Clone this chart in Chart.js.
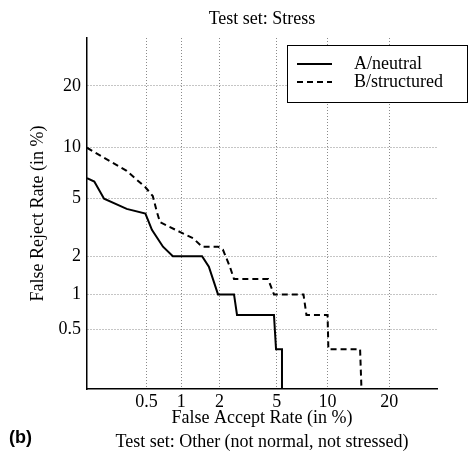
<!DOCTYPE html>
<html>
<head>
<meta charset="utf-8">
<script src="https://cdn.jsdelivr.net/npm/chart.js@4/dist/chart.umd.min.js"></script>
<style>
    body { margin: 0; background: #fff; }
    #wrap { width: 468px; height: 454px; }
</style>
</head>
<body>
<div id="wrap"><canvas id="detChart" width="468" height="454"></canvas></div>
<script>
// values in percent
const tickValues = [0.5, 1, 2, 5, 10, 20];
const tickLabels = ["0.5", "1", "2", "5", "10", "20"];

const neutralFar = [0.135, 0.16, 0.20, 0.33, 0.49, 0.56, 0.70, 0.85, 1.47, 1.66, 1.95, 2.56, 2.69, 4.8, 4.95, 5.4, 5.4];
const neutralFrr = [6.7, 6.4, 5.0, 4.3, 4.0, 3.1, 2.35, 2.0, 2.0, 1.66, 1.0, 1.0, 0.67, 0.67, 0.33, 0.33, 0.1];

const structuredFar = [0.135, 0.23, 0.33, 0.49, 0.57, 0.62, 0.66, 0.97, 1.25, 1.47, 1.95, 2.12, 2.39, 2.56, 4.4, 4.8, 7.3, 7.6, 10.0, 10.1, 14.7, 15.0];
const structuredFrr = [10.0, 8.4, 7.4, 5.9, 5.2, 4.1, 3.5, 3.0, 2.7, 2.35, 2.35, 2.24, 1.66, 1.33, 1.33, 1.0, 1.0, 0.67, 0.67, 0.33, 0.33, 0.1];

const seriesLabels = ["A/neutral", "B/structured"];

// inverse normal cdf (Acklam), DET axes are on a normal deviate scale
function probit(p) {
    const a = [-39.69683028665376, 220.9460984245205, -275.9285104469687, 138.3577518672690, -30.66479806614716, 2.506628277459239];
    const b = [-54.47609879822406, 161.5858368580409, -155.6989798598866, 66.80131188771972, -13.28068155288572];
    const c = [-0.007784894002430293, -0.3223964580411365, -2.400758277161838, -2.549732539343734, 4.374664141464968, 2.938163982698783];
    const d = [0.007784695709041462, 0.3224671290700398, 2.445134137142996, 3.754408661907416];
    const pLow = 0.02425;
    let q, r;
    if (p < pLow) {
        q = Math.sqrt(-2 * Math.log(p));
        return (((((c[0] * q + c[1]) * q + c[2]) * q + c[3]) * q + c[4]) * q + c[5]) /
            ((((d[0] * q + d[1]) * q + d[2]) * q + d[3]) * q + 1);
    } else if (p <= 1 - pLow) {
        q = p - 0.5;
        r = q * q;
        return (((((a[0] * r + a[1]) * r + a[2]) * r + a[3]) * r + a[4]) * r + a[5]) * q /
            (((((b[0] * r + b[1]) * r + b[2]) * r + b[3]) * r + b[4]) * r + 1);
    }
    q = Math.sqrt(-2 * Math.log(1 - p));
    return -(((((c[0] * q + c[1]) * q + c[2]) * q + c[3]) * q + c[4]) * q + c[5]) /
        ((((d[0] * q + d[1]) * q + d[2]) * q + d[3]) * q + 1);
}

function toPoints(far, frr) {
    return far.map((x, i) => ({ x: probit(x / 100), y: probit(frr[i] / 100) }));
}

const serif = "'Liberation Serif', 'Times New Roman', serif";

const insideLegend = {
    id: "insideLegend",
    afterDatasetsDraw(chart) {
        const ctx = chart.ctx;
        const area = chart.chartArea;
        const left = area.left + 200, top = area.top + 7;
        const w = 180, h = 57;
        ctx.save();
        ctx.fillStyle = "#fff";
        ctx.fillRect(left, top, w, h);
        ctx.strokeStyle = "#000";
        ctx.lineWidth = 1;
        ctx.strokeRect(left + 0.5, top + 0.5, w, h);
        ctx.font = "18px " + serif;
        ctx.textBaseline = "middle";
        chart.data.datasets.forEach((ds, i) => {
            const y = top + 19 + i * 18;
            ctx.beginPath();
            ctx.setLineDash(ds.borderDash || []);
            ctx.lineWidth = ds.borderWidth;
            ctx.moveTo(left + 10, y);
            ctx.lineTo(left + 45, y);
            ctx.stroke();
            ctx.setLineDash([]);
            ctx.fillStyle = "#000";
            ctx.fillText(ds.label, left + 67, y);
        });
        ctx.restore();
    }
};

const bottomCaption = {
    id: "bottomCaption",
    afterDraw(chart) {
        const ctx = chart.ctx;
        const area = chart.chartArea;
        ctx.save();
        ctx.fillStyle = "#000";
        ctx.textBaseline = "middle";
        ctx.font = "bold 18px 'Liberation Sans', Arial, sans-serif";
        ctx.textAlign = "left";
        ctx.fillText("(b)", 9, 438);
        ctx.font = "18px " + serif;
        ctx.textAlign = "center";
        ctx.fillText("Test set: Other (not normal, not stressed)", (area.left + area.right) / 2, 442);
        ctx.restore();
    }
};

function probitAxis(titleText, isX) {
    return {
        type: "linear",
        min: -3,
        max: -0.5,
        afterBuildTicks(scale) {
            scale.ticks = tickValues.map((v) => ({ value: probit(v / 100) }));
        },
        afterFit(scale) {
            if (isX) scale.height = 65;
            else scale.width = 87;
        },
        ticks: {
            autoSkip: false,
            maxRotation: 0,
            color: "#000",
            padding: isX ? 2 : 6,
            font: { family: serif, size: 18 },
            callback: (value, index) => tickLabels[index],
        },
        grid: {
            color: "#8a8a8a",
            lineWidth: 1,
            drawTicks: false,
        },
        border: {
            display: true,
            color: "#000",
            width: 1.5,
            dash: [1, 2],
        },
        title: {
            display: true,
            text: titleText,
            color: "#000",
            font: { family: serif, size: 18 },
            padding: isX ? { top: 0, bottom: 25 } : { top: 27, bottom: 0 },
        },
    };
}

const ctx = document.getElementById("detChart").getContext("2d");
new Chart(ctx, {
    type: "line",
    data: {
        datasets: [
            {
                label: seriesLabels[0],
                data: toPoints(neutralFar, neutralFrr),
                borderColor: "#000",
                borderWidth: 2,
                pointRadius: 0,
                tension: 0,
                fill: false,
            },
            {
                label: seriesLabels[1],
                data: toPoints(structuredFar, structuredFrr),
                borderColor: "#000",
                borderWidth: 2,
                borderDash: [6, 4],
                pointRadius: 0,
                tension: 0,
                fill: false,
            },
        ],
    },
    options: {
        responsive: false,
        animation: false,
        layout: { padding: { top: 0, left: 0, right: 31, bottom: 0 } },
        scales: {
            x: probitAxis("False Accept Rate (in %)", true),
            y: probitAxis("False Reject Rate (in %)", false),
        },
        plugins: {
            legend: { display: false },
            tooltip: { enabled: false },
            title: {
                display: true,
                text: "Test set: Stress",
                color: "#000",
                fullSize: false,
                font: { family: serif, size: 18, weight: "normal" },
                padding: { top: 8, bottom: 8.4 },
            },
        },
    },
    plugins: [insideLegend, bottomCaption],
});
</script>
</body>
</html>
